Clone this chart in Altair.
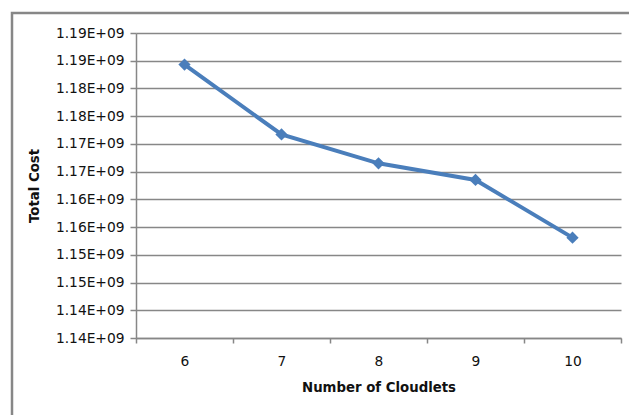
import altair as alt
import pandas as pd

# Total cost for each number of cloudlets
cloudlets = [6, 7, 8, 9, 10]
total_cost = [1184300000, 1171700000, 1166500000, 1163500000, 1153100000]

# y-axis ticks every 5e6 between 1.135e9 and 1.19e9
y_ticks = [1135000000 + 5000000 * i for i in range(12)]

df = pd.DataFrame({"Cloudlets": cloudlets, "Cost": total_cost})

GRAY = "#878787"
BLUE = "#4a7ebb"
FONT = "DejaVu Sans"

x_enc = alt.X(
    "Cloudlets:O",
    scale=alt.Scale(type="band", paddingInner=0, paddingOuter=0),
    axis=alt.Axis(
        title="Number of Cloudlets",
        labelAngle=0,
        tickBand="extent",
        tickSize=5,
        labelPadding=11,
        titlePadding=13,
        grid=False,
    ),
)
y_enc = alt.Y(
    "Cost:Q",
    scale=alt.Scale(domain=[y_ticks[0], y_ticks[-1]], nice=False, zero=False),
    axis=alt.Axis(
        title="Total Cost",
        values=y_ticks,
        labelExpr="replace(format(datum.value, '.2e'), 'e+9', 'E+09')",
        tickSize=6,
        labelPadding=6,
        titlePadding=14,
        grid=True,
    ),
)

line = alt.Chart(df).mark_line(color=BLUE, strokeWidth=4).encode(x=x_enc, y=y_enc)
points = alt.Chart(df).mark_point(
    shape="diamond", filled=True, color=BLUE, size=150, opacity=1
).encode(x=x_enc, y=y_enc)

# chart-area frame
frame = alt.Chart(pd.DataFrame({"f": [0]})).mark_rect(
    fill=None, stroke=GRAY, strokeWidth=2.5
).encode(
    x=alt.value(-124), x2=alt.value(520), y=alt.value(-20), y2=alt.value(400)
)

chart = (
    alt.layer(frame, line, points)
    .properties(
        width=485,
        height=305,
        autosize=alt.AutoSizeParams(type="none"),
        padding={"left": 136, "top": 33, "right": 8, "bottom": 77},
        background="white",
    )
    .configure_view(stroke=None)
    .configure_axis(
        domainColor=GRAY,
        domainWidth=1.5,
        tickColor=GRAY,
        tickWidth=1.5,
        gridColor=GRAY,
        gridWidth=1.5,
        labelFont=FONT,
        labelFontSize=13.8,
        labelColor="#111111",
        titleFont=FONT,
        titleFontSize=13.3,
        titleFontWeight="bold",
        titleColor="#111111",
    )
)

chart.save("out.html", embed_options={"renderer": "svg", "actions": False})
